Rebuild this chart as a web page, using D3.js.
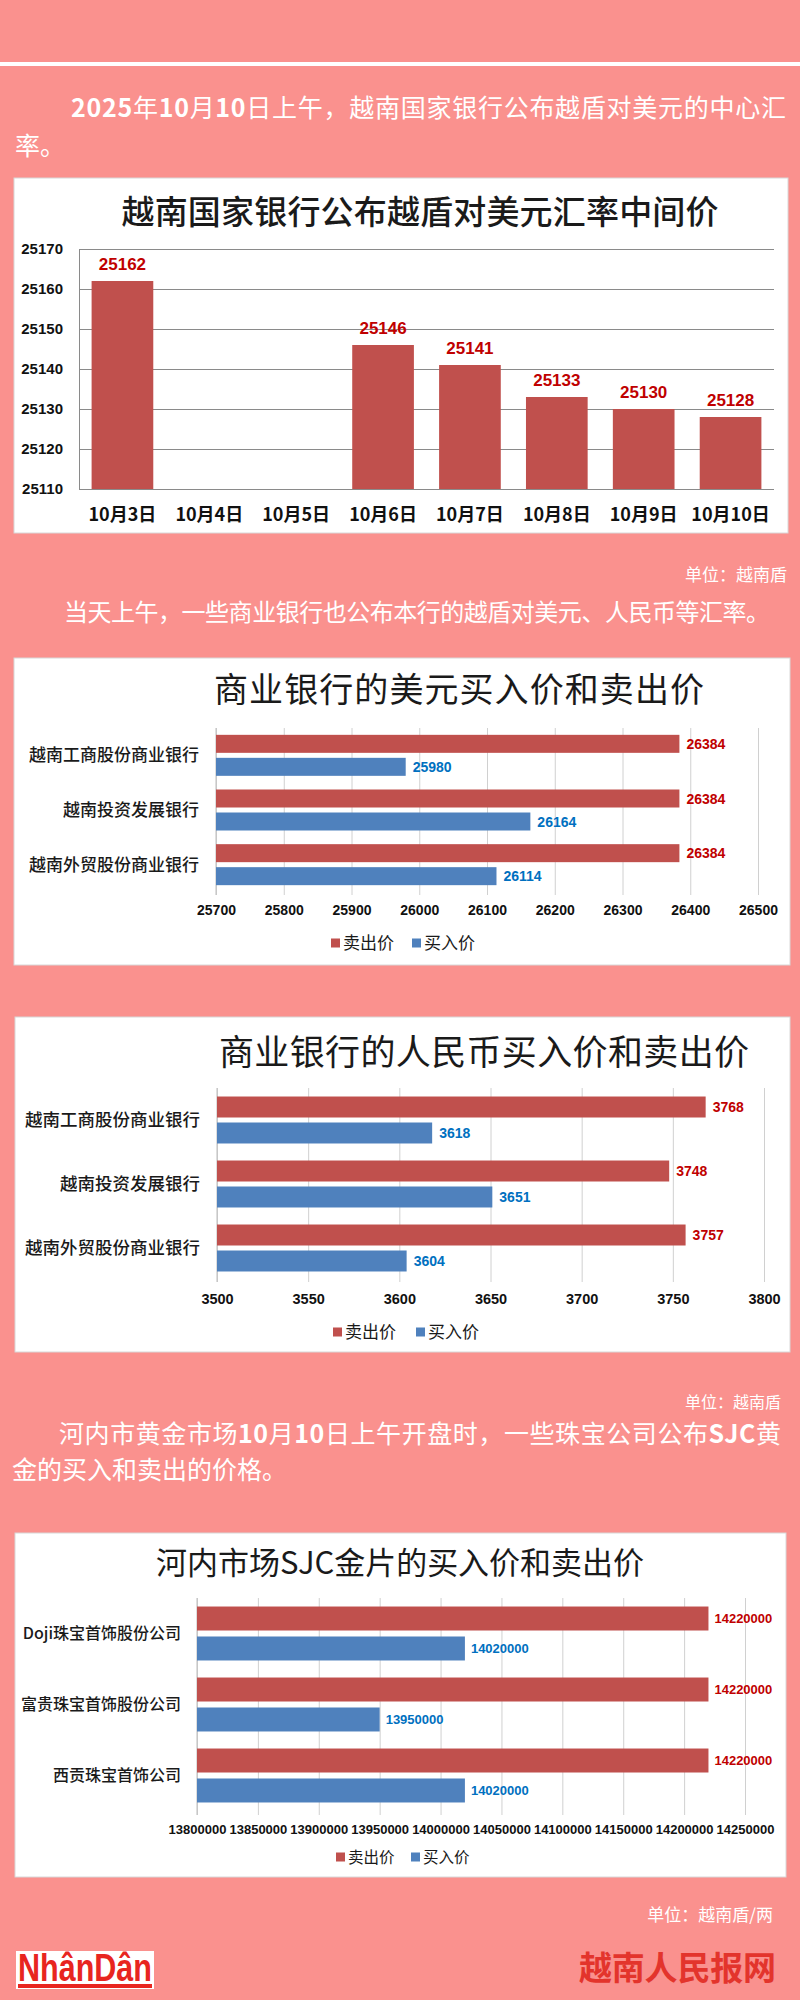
<!DOCTYPE html>
<html>
<head>
<meta charset="utf-8">
<script src="https://cdn.jsdelivr.net/npm/d3@7/dist/d3.min.js"></script>
<style>
  body { margin: 0; padding: 0; background: #FA918E; }
  svg { display: block; }
</style>
</head>
<body>
<script>
// ---------- DATA ----------
const rateDates = ["10月3日", "10月4日", "10月5日", "10月6日", "10月7日", "10月8日", "10月9日", "10月10日"];
const rateValues = [25162, null, null, 25146, 25141, 25133, 25130, 25128];
const rateTicks = [25110, 25120, 25130, 25140, 25150, 25160, 25170];

const seriesNames = ["卖出价", "买入价"];

const banks = ["越南工商股份商业银行", "越南投资发展银行", "越南外贸股份商业银行"];
const usdSell = [26384, 26384, 26384];
const usdBuy = [25980, 26164, 26114];
const usdTicks = [25700, 25800, 25900, 26000, 26100, 26200, 26300, 26400, 26500];

const cnySell = [3768, 3748, 3757];
const cnyBuy = [3618, 3651, 3604];
const cnyTicks = [3500, 3550, 3600, 3650, 3700, 3750, 3800];

const goldFirms = ["Doji珠宝首饰股份公司", "富贵珠宝首饰股份公司", "西贡珠宝首饰公司"];
const goldSell = [14220000, 14220000, 14220000];
const goldBuy = [14020000, 13950000, 14020000];
const goldTicks = [13800000, 13850000, 13900000, 13950000, 14000000, 14050000, 14100000, 14150000, 14200000, 14250000];

// ---------- STYLE ----------
const PINK = "#FA918E";
const RED = "#C0504D", BLUE = "#4F81BD";
const RED_LBL = "#C00000", BLUE_LBL = "#0070C0";
const CJK = "'Noto Sans CJK SC', 'Noto Sans', sans-serif";
const NUM = "'Liberation Sans', Arial, sans-serif";

const svg = d3.select("body").append("svg").attr("width", 800).attr("height", 2000);
svg.append("rect").attr("width", 800).attr("height", 2000).attr("fill", PINK);
svg.append("rect").attr("x", 0).attr("y", 62).attr("width", 800).attr("height", 4).attr("fill", "#fff");

function para(x, y, parts, fs, len) {
  const t = svg.append("text").attr("x", x).attr("y", y)
    .attr("fill", "#fff").attr("font-family", CJK).attr("font-size", fs);
  if (len) t.attr("textLength", len).attr("lengthAdjust", "spacing");
  parts.forEach(p => t.append("tspan").attr("font-weight", p[1] ? 700 : 400).text(p[0]));
}
function unit(xr, y, s, fs) {
  svg.append("text").attr("x", xr).attr("y", y).attr("text-anchor", "end")
    .attr("fill", "#fff").attr("font-family", CJK).attr("font-size", fs || 17).text(s);
}
function box(x, y, w, h) {
  svg.append("rect").attr("x", x).attr("y", y).attr("width", w).attr("height", h)
    .attr("fill", "#fff").attr("stroke", "#d8d8d8").attr("stroke-width", 1);
}

// ---------- Paragraph 1 ----------
para(71, 117, [["2025", 1], ["年"], ["10", 1], ["月"], ["10", 1], ["日上午，越南国家银行公布越盾对美元的中心汇"]], 25, 715);
para(15, 155, [["率。"]], 25);

// ---------- Chart 1 ----------
box(14, 178, 774, 355);
svg.append("text").attr("x", 420).attr("y", 224).attr("text-anchor", "middle")
  .attr("font-family", CJK).attr("font-size", 33).attr("font-weight", 500).attr("fill", "#1a1a1a")
  .attr("textLength", 597).attr("lengthAdjust", "spacing")
  .text("越南国家银行公布越盾对美元汇率中间价");

{
  const x = d3.scaleBand().domain(rateDates).range([79, 774]).paddingInner(0.29).paddingOuter(0.145);
  const y = d3.scaleLinear().domain([25110, 25170]).range([489, 249]);
  const g = svg.append("g");
  const ya = g.append("g").attr("transform", "translate(79,0)")
    .call(d3.axisLeft(y).tickValues(rateTicks).tickSizeInner(-(774 - 79)).tickSizeOuter(0).tickPadding(16).tickFormat(d3.format("d")));
  ya.selectAll(".tick line").attr("stroke", "#8a8a8a");
  ya.select(".domain").attr("stroke", "#8a8a8a");
  ya.selectAll("text").attr("font-family", NUM).attr("font-weight", 700).attr("font-size", 15).attr("fill", "#111");

  const data = rateDates.map((d, i) => ({ d, v: rateValues[i] })).filter(o => o.v != null);
  g.selectAll("rect.bar").data(data).join("rect").attr("class", "bar")
    .attr("x", o => x(o.d)).attr("width", x.bandwidth())
    .attr("y", o => y(o.v)).attr("height", o => y(25110) - y(o.v)).attr("fill", RED);
  g.selectAll("text.val").data(data).join("text").attr("class", "val")
    .attr("x", o => x(o.d) + x.bandwidth() / 2).attr("y", o => y(o.v) - 11)
    .attr("text-anchor", "middle").attr("font-family", NUM).attr("font-weight", 700)
    .attr("font-size", 17).attr("fill", RED_LBL).text(o => o.v);

  const xa = g.append("g").attr("transform", "translate(0,489)")
    .call(d3.axisBottom(x).tickSize(0).tickPadding(19));
  xa.select(".domain").remove();
  xa.selectAll("text").attr("font-family", CJK).attr("font-weight", 700).attr("font-size", 18).attr("fill", "#111");
}
unit(787, 581, "单位：越南盾");

// ---------- Paragraph 2 ----------
para(64, 621, [["当天上午，一些商业银行也公布本行的越盾对美元、人民币等汇率。"]], 24, 706);

// ---------- Horizontal grouped bar helper ----------
function hbar(c) {
  const g = svg.append("g");
  const x = d3.scaleLinear().domain([c.ticks[0], c.ticks[c.ticks.length - 1]]).range(c.xr);
  const y0 = d3.scaleBand().domain(c.cats).range(c.yr).paddingInner(c.pIn).paddingOuter(c.pIn / 2);
  const y1 = d3.scaleBand().domain(seriesNames).range([0, y0.bandwidth()]).paddingInner(c.subP);

  // title
  g.append("text").attr("x", c.title[1]).attr("y", c.title[2]).attr("text-anchor", "middle")
    .attr("font-family", CJK).attr("font-size", c.title[3]).attr("fill", "#1a1a1a")
    .attr("textLength", c.title[4]).attr("lengthAdjust", "spacing").text(c.title[0]);

  // x axis + grid
  const xa = g.append("g").attr("transform", `translate(0,${c.axisY})`)
    .call(d3.axisBottom(x).tickValues(c.ticks).tickSizeInner(-(c.axisY - c.gridTop)).tickSizeOuter(0)
      .tickPadding(c.tickPad).tickFormat(d3.format("d")));
  xa.select(".domain").remove();
  xa.selectAll(".tick line").attr("stroke", "#d0d0d0");
  xa.selectAll("text").attr("font-family", NUM).attr("font-weight", 700).attr("font-size", c.tickFs).attr("fill", "#111");
  g.append("line").attr("x1", c.xr[0]).attr("x2", c.xr[0]).attr("y1", c.gridTop).attr("y2", c.axisY)
    .attr("stroke", "#bdbdbd");

  const rows = c.cats.map((cat, i) => ({ cat, vals: [c.sell[i], c.buy[i]] }));
  const grp = g.selectAll("g.grp").data(rows).join("g").attr("class", "grp")
    .attr("transform", r => `translate(0,${y0(r.cat)})`);
  const items = grp.selectAll("g.it").data(r => r.vals.map((v, j) => ({ s: seriesNames[j], v, j })))
    .join("g").attr("class", "it");
  items.append("rect").attr("x", c.xr[0]).attr("y", d => y1(d.s))
    .attr("width", d => x(d.v) - c.xr[0]).attr("height", y1.bandwidth())
    .attr("fill", d => d.j === 0 ? RED : BLUE);
  items.append("text").attr("x", d => x(d.v) + c.valGap).attr("y", d => y1(d.s) + y1.bandwidth() / 2)
    .attr("dy", "0.36em").attr("font-family", NUM).attr("font-weight", 700).attr("font-size", c.valFs)
    .attr("fill", d => d.j === 0 ? RED_LBL : BLUE_LBL).text(d => d.v);

  // category labels
  g.selectAll("text.cat").data(c.cats).join("text").attr("class", "cat")
    .attr("x", c.catX).attr("y", d => y0(d) + y0.bandwidth() / 2).attr("dy", "0.36em")
    .attr("text-anchor", "end").attr("font-family", CJK).attr("font-size", c.catFs)
    .attr("font-weight", 500).attr("fill", "#1a1a1a").text(d => d);

  // legend
  const lg = g.append("g");
  seriesNames.forEach((s, j) => {
    const lx = c.legend[j];
    lg.append("rect").attr("x", lx).attr("y", c.legendY - 4.5).attr("width", 9).attr("height", 9)
      .attr("fill", j === 0 ? RED : BLUE);
    lg.append("text").attr("x", lx + 12).attr("y", c.legendY).attr("dy", "0.36em")
      .attr("font-family", CJK).attr("font-size", c.legendFs).attr("fill", "#1a1a1a").text(s);
  });
}

// ---------- Chart 2 ----------
box(14, 658, 776, 307);
hbar({
  title: ["商业银行的美元买入价和卖出价", 459, 702, 34, 490],
  cats: banks, sell: usdSell, buy: usdBuy, ticks: usdTicks,
  xr: [216, 758], yr: [728, 892], pIn: 0.25, subP: 5 / 23,
  axisY: 895, gridTop: 728, tickPad: 10, tickFs: 14,
  valGap: 7, valFs: 14, catX: 199, catFs: 17,
  legend: [331, 412], legendY: 943, legendFs: 17
});

// ---------- Chart 3 ----------
box(15, 1017, 775, 335);
hbar({
  title: ["商业银行的人民币买入价和卖出价", 484, 1065, 35, 530],
  cats: banks, sell: cnySell, buy: cnyBuy, ticks: cnyTicks,
  xr: [217, 764], yr: [1088, 1280], pIn: 0.266, subP: 5 / 26,
  axisY: 1282, gridTop: 1088, tickPad: 12, tickFs: 14.5,
  valGap: 7, valFs: 14, catX: 200, catFs: 17.5,
  legend: [333, 416], legendY: 1332, legendFs: 17
});
unit(781, 1408, "单位：越南盾", 16);

// ---------- Paragraph 3 ----------
para(59, 1443, [["河内市黄金市场"], ["10", 1], ["月"], ["10", 1], ["日上午开盘时，一些珠宝公司公布"], ["SJC", 1], ["黄"]], 25, 722);
para(12, 1479, [["金的买入和卖出的价格。"]], 25);

// ---------- Chart 4 ----------
box(15, 1533, 771, 344);
hbar({
  title: ["河内市场SJC金片的买入价和卖出价", 400, 1574, 31, 488],
  cats: goldFirms, sell: goldSell, buy: goldBuy, ticks: goldTicks,
  xr: [197, 745], yr: [1598, 1811], pIn: 0.24, subP: 0.2,
  axisY: 1815, gridTop: 1598, tickPad: 10, tickFs: 13,
  valGap: 6, valFs: 13, catX: 181, catFs: 16,
  legend: [336, 411], legendY: 1857, legendFs: 15.5
});
unit(773, 1921, "单位：越南盾/两");

// ---------- Footer ----------
svg.append("rect").attr("x", 16).attr("y", 1951).attr("width", 138).attr("height", 38).attr("fill", "#fff");
svg.append("text").attr("x", 18).attr("y", 1981).attr("font-family", "'Liberation Sans Narrow', 'Liberation Sans', sans-serif")
  .attr("font-weight", 700).attr("font-size", 38).attr("fill", "#E8251F")
  .attr("textLength", 134).attr("lengthAdjust", "spacingAndGlyphs").text("NhânDân");
svg.append("rect").attr("x", 18).attr("y", 1984).attr("width", 134).attr("height", 4).attr("fill", "#E8251F");
svg.append("text").attr("x", 776).attr("y", 1980).attr("text-anchor", "end")
  .attr("font-family", CJK).attr("font-weight", 700).attr("font-size", 33).attr("fill", "#E3342C")
  .attr("textLength", 197).attr("lengthAdjust", "spacing").text("越南人民报网");
</script>
</body>
</html>
